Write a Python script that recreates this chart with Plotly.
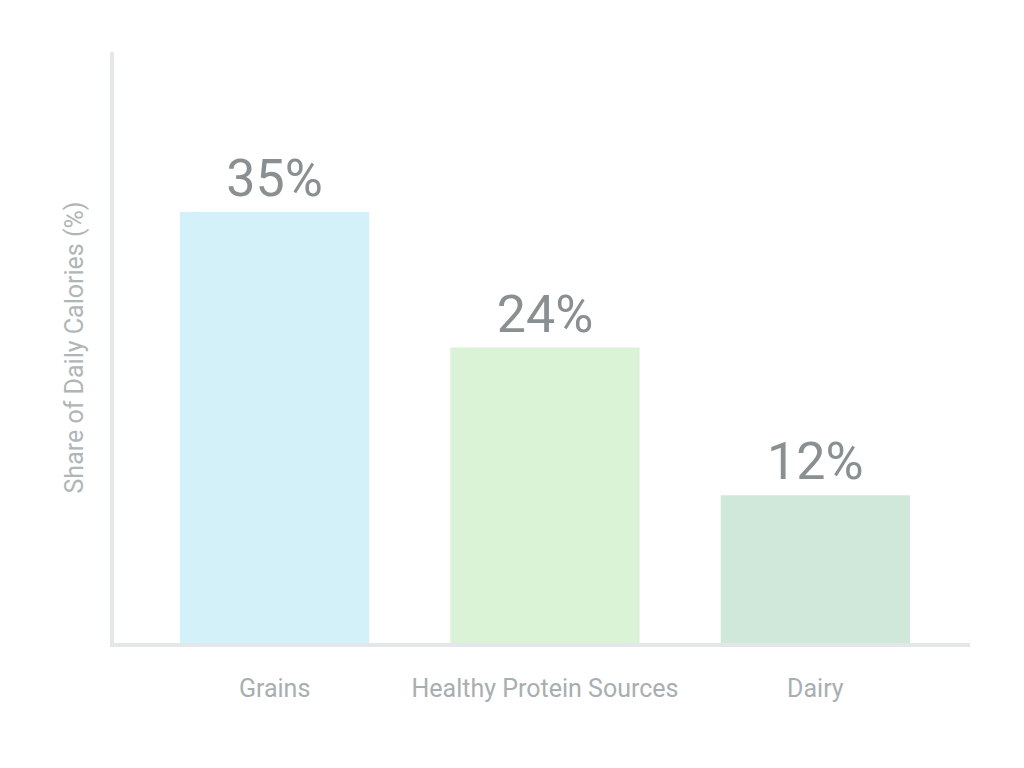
import plotly.graph_objects as go

categories = ["Grains", "Healthy Protein Sources", "Dairy"]
values = [35, 24, 12]
value_labels = ["35%", "24%", "12%"]
bar_colors = ["#d2f1f8", "#daf2d5", "#cfe8da"]
y_title = "Share of Daily Calories (%)"

fig = go.Figure(
    go.Bar(
        x=categories,
        y=values,
        text=value_labels,
        textposition="outside",
        textfont=dict(size=52, color="#8a9092", family="Roboto"),
        marker=dict(color=bar_colors, line=dict(width=0)),
        width=0.70,
        cliponaxis=False,
    )
)

fig.update_layout(
    width=1024,
    height=768,
    paper_bgcolor="white",
    plot_bgcolor="white",
    margin=dict(l=106, r=62, t=44, b=133),
    showlegend=False,
    font=dict(family="Roboto", color="#a9aeb0"),
)
fig.update_xaxes(
    range=[-0.594, 2.572],
    automargin=False,
    showline=True,
    linecolor="#e3e7e9",
    linewidth=4,
    ticks="",
    ticklabelstandoff=20,
    tickfont=dict(size=25, color="#a9aeb0"),
    showgrid=False,
)
fig.update_yaxes(
    range=[0, 48],
    automargin=False,
    showline=True,
    linecolor="#e3e7e9",
    linewidth=4,
    showticklabels=False,
    ticks="",
    showgrid=False,
    zeroline=False,
    title=dict(text=y_title, font=dict(size=25, color="#b0b5b7"), standoff=20),
)

fig.write_html("out.html")
